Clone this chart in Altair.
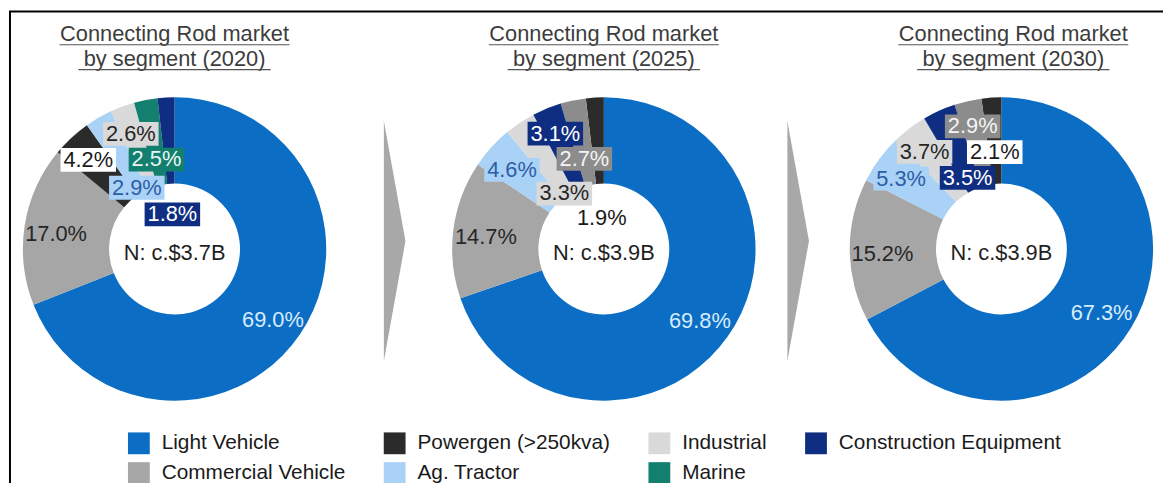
import altair as alt
import pandas as pd

# ---------------- data ----------------
segments = ["Light Vehicle", "Commercial Vehicle", "Powergen (>250kva)", "Ag. Tractor",
            "Industrial", "Marine", "Construction Equipment"]
years = [2020, 2025, 2030]
share_2020 = [69.0, 17.0, 4.2, 2.9, 2.6, 2.5, 1.8]
share_2025 = [69.8, 14.7, 1.9, 4.6, 3.3, 2.7, 3.1]
share_2030 = [67.3, 15.2, 2.1, 5.3, 3.7, 2.9, 3.5]
shares_by_year = [share_2020, share_2025, share_2030]
market_size = ["c.$3.7B", "c.$3.9B", "c.$3.9B"]
title_line1 = "Connecting Rod market"
title_line2 = ["by segment (2020)", "by segment (2025)", "by segment (2030)"]

# ---------------- styling / layout ----------------
FONT = "Liberation Sans, Arial, Helvetica, sans-serif"
seg_color = {
    "Light Vehicle": "#0b6ec4",
    "Commercial Vehicle": "#a6a6a6",
    "Powergen (>250kva)": "#2b2b2b",
    "Ag. Tractor": "#a9d2f6",
    "Industrial": "#d9d9d9",
    "Marine": "#13806f",
    "Construction Equipment": "#0f2e82",
}
label_bg = {
    "Light Vehicle": "none",
    "Commercial Vehicle": "none",
    "Powergen (>250kva)": "#ffffff",
    "Ag. Tractor": "#a9d2f6",
    "Industrial": "#d9d9d9",
    "Marine": "#13806f",
    "Construction Equipment": "#0f2e82",
}
label_fg = {
    "Light Vehicle": "#d8ecff",
    "Commercial Vehicle": "#262626",
    "Powergen (>250kva)": "#1a1a1a",
    "Ag. Tractor": "#2c5ea6",
    "Industrial": "#262626",
    "Marine": "#eaf5f3",
    "Construction Equipment": "#ffffff",
}
# in the later years the Marine slice is drawn in grey
marine_override = {2025: ("#8c8c8c", "#8c8c8c", "#f4f4f4"),
                   2030: ("#8c8c8c", "#8c8c8c", "#f4f4f4")}
# label distance from centre (px), in segment order
label_radius = {
    2020: [120, 121, 128, 76, 128, 96, 39],
    2025: [119, 120, 35, 125, 72, 97, 130],
    2030: [118, 120, 102, 126, 128, 131, 83],
}
widths = [334, 532, 270]
H = 482
OUTER, INNER = 153, 66
title_dx = [0, 0, 12]

color_scale = alt.Scale(domain=segments, range=[seg_color[s] for s in segments])
legend = alt.Legend(title=None, orient="none", legendX=120, legendY=426, columns=4,
                    direction="vertical",
                    symbolType="square", symbolSize=484, symbolStrokeWidth=0,
                    symbolOpacity=1, labelFontSize=21, labelFont=FONT,
                    labelColor="#1a1a1a", labelOffset=12, rowPadding=8,
                    columnPadding=38, labelLimit=400)


def panel(idx):
    year = years[idx]
    shares = shares_by_year[idx]
    W = widths[idx]
    ov = marine_override.get(year)
    bgs = [label_bg[s] for s in segments]
    fgs = [label_fg[s] for s in segments]
    if ov:
        m = segments.index("Marine")
        bgs[m] = ov[1]
        fgs[m] = ov[2]
    df = pd.DataFrame({
        "segment": segments,
        "value": shares,
        "label": [f"{v:.1f}%" for v in shares],
        "r": label_radius[year],
        "bg": bgs,
        "fg": fgs,
    })
    xs = alt.Scale(domain=[-W / 2, W / 2], nice=False, zero=False)
    ys = alt.Scale(domain=[-H / 2, H / 2], nice=False, zero=False)

    base = (
        alt.Chart(df)
        .transform_calculate(
            grp="datum.segment === 'Light Vehicle' ? 0 : (datum.segment === 'Commercial Vehicle' ? 1 : 2)")
        .transform_window(
            rank="row_number()", cum="sum(value)",
            sort=[alt.SortField("grp", order="ascending"), alt.SortField("value", order="descending")],
            frame=[None, 0])
        .transform_joinaggregate(total="sum(value)")
        .transform_calculate(mid="2*PI*(datum.cum - datum.value/2)/datum.total")
        .transform_calculate(lx="datum.r*sin(datum.mid)", ly="datum.r*cos(datum.mid) - 4")
        .transform_calculate(x1="datum.lx - 28", x2="datum.lx + 28",
                             y1="datum.ly - 12", y2="datum.ly + 12")
    )

    color_field = alt.Color("segment:N", scale=color_scale, legend=legend)
    if ov:
        color = alt.condition(alt.datum.segment == "Marine", alt.value(ov[0]), color_field)
    else:
        color = color_field

    arcs = base.mark_arc(innerRadius=INNER, outerRadius=OUTER).encode(
        theta=alt.Theta("value:Q", stack=True),
        order=alt.Order("rank:Q"),
        color=color,
    )
    boxes = base.transform_filter("datum.bg !== 'none'").mark_rect().encode(
        x=alt.X("x1:Q", scale=xs, axis=None), x2="x2:Q",
        y=alt.Y("y1:Q", scale=ys, axis=None), y2="y2:Q",
        fill=alt.Fill("bg:N", scale=None),
    )
    labels = base.mark_text(font=FONT, fontSize=22, align="center", baseline="middle").encode(
        x=alt.X("lx:Q", scale=xs, axis=None),
        y=alt.Y("ly:Q", scale=ys, axis=None),
        text="label:N",
        fill=alt.Fill("fg:N", scale=None),
    )
    one = pd.DataFrame({"n": ["N: " + market_size[idx]],
                        "t1": [title_line1], "t2": [title_line2[idx]]})
    centre = alt.Chart(one).mark_text(font=FONT, fontSize=22, color="#1f1f1f",
                                      align="center", baseline="middle").encode(
        x=alt.value(W / 2), y=alt.value(H / 2 + 4), text="n:N")
    cx = W / 2 + title_dx[idx]
    t1 = alt.Chart(one).mark_text(font=FONT, fontSize=22, color="#3c3c3c",
                                  align="center", baseline="alphabetic").encode(
        x=alt.value(cx), y=alt.value(31), text="t1:N")
    t2 = alt.Chart(one).mark_text(font=FONT, fontSize=22, color="#3c3c3c",
                                  align="center", baseline="alphabetic").encode(
        x=alt.value(cx), y=alt.value(56), text="t2:N")
    u1 = alt.Chart(one).mark_rule(color="#555555", strokeWidth=1.2).encode(
        x=alt.value(cx - 116), x2=alt.value(cx + 116), y=alt.value(35))
    u2 = alt.Chart(one).mark_rule(color="#555555", strokeWidth=1.2).encode(
        x=alt.value(cx - 97), x2=alt.value(cx + 97), y=alt.value(60))

    layers = [arcs, boxes, labels, centre, t1, t2, u1, u2]

    if idx == 0:
        top = alt.Chart(one).mark_rule(color="#000000", strokeWidth=2).encode(
            x=alt.value(0), x2=alt.value(1164), y=alt.value(1.5))
        left = alt.Chart(one).mark_rule(color="#000000", strokeWidth=2).encode(
            x=alt.value(1), y=alt.value(1), y2=alt.value(H))
        layers = [top, left] + layers
    if idx == 1:
        arrow_path = "M-0.09,-1L0.09,0L-0.09,1Z"
        for ax in (55, 462):
            layers.append(
                alt.Chart(one).mark_point(shape=arrow_path, size=58564, filled=True,
                                          color="#a8a8a8", opacity=1).encode(
                    x=alt.value(ax), y=alt.value(233)))

    return alt.layer(*layers).properties(width=W, height=H)


chart = (
    alt.hconcat(panel(0), panel(1), panel(2), spacing=0, bounds="flush")
    .properties(padding=0, background="#ffffff")
    .configure_view(stroke=None)
)

chart.save("out.html", embed_options={"renderer": "svg", "actions": False})
